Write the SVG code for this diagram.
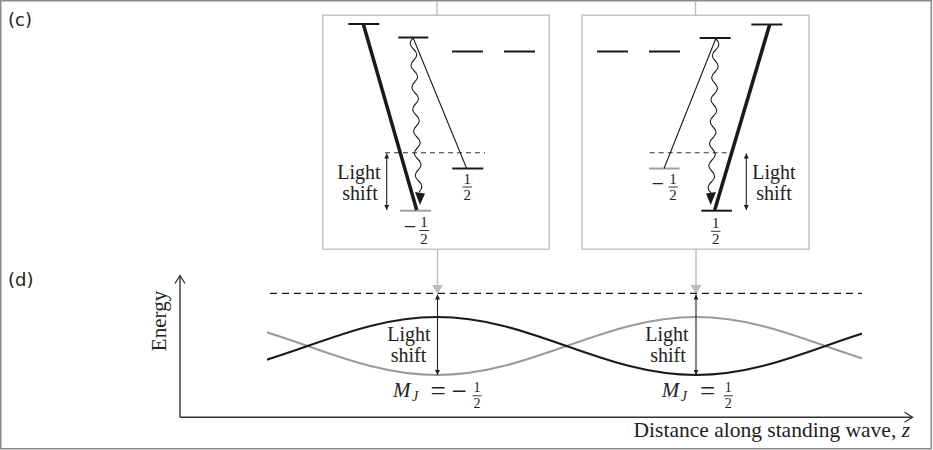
<svg xmlns="http://www.w3.org/2000/svg" width="933" height="450" viewBox="0 0 933 450">
<defs>
<style>
.t{font-family:"Liberation Serif","Times New Roman",serif;fill:#222}
.lab{font-family:"DejaVu Sans",sans-serif;font-size:18px;fill:#222}
.ls{font-size:20px;text-anchor:middle}
.fr{font-size:15px;text-anchor:middle}
.frs{font-size:14px;text-anchor:middle}
.op{text-anchor:middle}
.box{fill:#fff;stroke:#c4c4c4;stroke-width:1.5}
.lev{stroke:#1a1a1a;stroke-width:2}
.levg{stroke:#a0a0a0;stroke-width:2}
.thick{stroke:#1a1a1a;stroke-width:3.5;stroke-linecap:butt}
.thin{stroke:#1a1a1a;stroke-width:1.1}
.wave{fill:none;stroke:#1a1a1a;stroke-width:1.1}
.dash{stroke:#333;stroke-width:1.1;stroke-dasharray:5 4}
.dblarr{stroke:#222;stroke-width:1.1;marker-start:url(#sm);marker-end:url(#sm)}
.bar{stroke:#222;stroke-width:0.9}
.gray{stroke:#bdbdbd;stroke-width:1.4}
.axis{stroke:#333;stroke-width:1.4;fill:none;marker-end:url(#open)}
</style>
<marker id="sm" viewBox="0 0 6 6" markerWidth="6" markerHeight="5" refX="6" refY="3" orient="auto-start-reverse" markerUnits="userSpaceOnUse">
<path d="M0,0 L6,3 L0,6 z" fill="#222"/>
</marker>
<marker id="open" viewBox="0 0 10 12" markerWidth="10" markerHeight="12" refX="9" refY="6" orient="auto" markerUnits="userSpaceOnUse">
<path d="M1,1 L9,6 L1,11" fill="none" stroke="#333" stroke-width="1.3"/>
</marker>
<clipPath id="plotclip"><rect x="267" y="300" width="595" height="100"/></clipPath>
</defs>

<rect x="0.75" y="0.75" width="930.5" height="448" fill="#fff" stroke="#8a8a8a" stroke-width="1.5"/>

<g id="label-c"><text class="lab" x="8" y="26">(c)</text></g>
<g id="label-d"><text class="lab" x="8" y="286">(d)</text></g>

<g id="connectors">
<line class="gray" x1="437" y1="1" x2="437" y2="15"/>
<line class="gray" x1="695.5" y1="1" x2="695.5" y2="15"/>
<line class="gray" x1="437.5" y1="250" x2="437.5" y2="286"/>
<polygon points="432,285 443,285 437.5,294.3" fill="#bdbdbd"/>
<line class="gray" x1="696" y1="250" x2="696" y2="286"/>
<polygon points="690.5,285 701.5,285 696,294.3" fill="#bdbdbd"/>
</g>

<g id="box-left">
<rect class="box" x="322.75" y="15.25" width="226.5" height="234"/>
<line class="lev" x1="348.3" y1="24" x2="379.3" y2="24"/>
<line class="lev" x1="398.3" y1="37.5" x2="428.3" y2="37.5"/>
<line class="lev" x1="452" y1="51.5" x2="483" y2="51.5"/>
<line class="lev" x1="504" y1="51.5" x2="535" y2="51.5"/>
<line class="dash" x1="385" y1="152.7" x2="485" y2="152.7"/>
<line class="lev" x1="452.3" y1="168.5" x2="483.3" y2="168.5"/>
<line class="levg" x1="400" y1="210.7" x2="431" y2="210.7"/>
<line class="thick" x1="363.3" y1="24" x2="416.7" y2="210"/>
<line class="thin" x1="413" y1="37.5" x2="466.7" y2="168.5"/>
<path class="wave" d="M413,38 q-6,5.5 0.43,11 t0.43,11 t0.43,11 t0.43,11 t0.43,11 t0.43,11 t0.43,11 t0.43,11 t0.43,11 t0.43,11 t0.43,11 t0.43,11 t0.43,11 t0.43,11"/>
<polygon points="415,192 425,193.5 420,205" fill="#1a1a1a"/>
<line class="dblarr" x1="386.7" y1="153.5" x2="386.7" y2="210"/>
<text class="t ls" x="359" y="178.5">Light</text>
<text class="t ls" x="360" y="199.5">shift</text>
<text class="t fr" x="467.3" y="184">1</text>
<line class="bar" x1="462.5" y1="187" x2="472" y2="187"/>
<text class="t fr" x="467.3" y="200">2</text>
<text class="t op" font-size="22" x="410" y="234">−</text>
<text class="t fr" x="424" y="227">1</text>
<line class="bar" x1="419.3" y1="230.5" x2="428.8" y2="230.5"/>
<text class="t fr" x="424" y="243.5">2</text>
</g>

<g id="box-right">
<rect class="box" x="582" y="15.25" width="227" height="234"/>
<line class="lev" x1="751.3" y1="24.5" x2="782.3" y2="24.5"/>
<line class="lev" x1="699.7" y1="38" x2="730.7" y2="38"/>
<line class="lev" x1="597" y1="51.5" x2="628" y2="51.5"/>
<line class="lev" x1="649" y1="51.5" x2="680" y2="51.5"/>
<line class="dash" x1="649.7" y1="152.7" x2="731.3" y2="152.7"/>
<line class="levg" x1="649" y1="168.5" x2="679.7" y2="168.5"/>
<line class="lev" x1="701.3" y1="210.7" x2="732" y2="210.7"/>
<line class="thick" x1="769.7" y1="24.5" x2="714.7" y2="210"/>
<line class="thin" x1="716" y1="38" x2="664" y2="168.5"/>
<path class="wave" d="M716,39 q6,5.5 -0.36,11 t-0.36,11 t-0.36,11 t-0.36,11 t-0.36,11 t-0.36,11 t-0.36,11 t-0.36,11 t-0.36,11 t-0.36,11 t-0.36,11 t-0.36,11 t-0.36,11 t-0.36,11"/>
<polygon points="706,193.5 716,192 710.7,205" fill="#1a1a1a"/>
<line class="dblarr" x1="746.3" y1="153.5" x2="746.3" y2="210"/>
<text class="t ls" x="774" y="178.5">Light</text>
<text class="t ls" x="774" y="199.5">shift</text>
<text class="t op" font-size="22" x="657.7" y="191">−</text>
<text class="t fr" x="673" y="184">1</text>
<line class="bar" x1="668.3" y1="187" x2="677.8" y2="187"/>
<text class="t fr" x="673" y="200">2</text>
<text class="t fr" x="715.7" y="228">1</text>
<line class="bar" x1="711" y1="231.3" x2="720.5" y2="231.3"/>
<text class="t fr" x="715.7" y="244">2</text>
</g>

<g id="plot">
<line class="axis" x1="180" y1="417.3" x2="180" y2="275.5"/>
<line class="axis" x1="180" y1="417.3" x2="912.5" y2="417.3"/>
<text class="t" font-size="21" text-anchor="middle" transform="translate(166,321) rotate(-90)">Energy</text>
<text class="t" font-size="21.5" text-anchor="end" x="910" y="437">Distance along standing wave, <tspan font-style="italic">z</tspan></text>
<line x1="270" y1="293.3" x2="862" y2="293.3" stroke="#1a1a1a" stroke-width="1.2" stroke-dasharray="7 5"/>
<g clip-path="url(#plotclip)" fill="none" stroke-width="2">
<path stroke="#9a9a9a" d="M178,317 c46.9,0 87.3,14.14 129.5,29 c42.2,14.86 82.6,29 129.5,29 c46.9,0 87.3,-14.14 129.5,-29 c42.2,-14.86 82.6,-29 129.5,-29 c46.9,0 87.3,14.14 129.5,29 c42.2,14.86 82.6,29 129.5,29"/>
<path stroke="#1a1a1a" d="M178,375 c46.9,0 87.3,-14.14 129.5,-29 c42.2,-14.86 82.6,-29 129.5,-29 c46.9,0 87.3,14.14 129.5,29 c42.2,14.86 82.6,29 129.5,29 c46.9,0 87.3,-14.14 129.5,-29 c42.2,-14.86 82.6,-29 129.5,-29"/>
</g>
<line class="dblarr" x1="437.5" y1="294.5" x2="437.5" y2="375"/>
<line class="dblarr" x1="696" y1="294.5" x2="696" y2="375"/>
<text class="t ls" x="409" y="341">Light</text>
<text class="t ls" x="408.5" y="362">shift</text>
<text class="t ls" x="667" y="341">Light</text>
<text class="t ls" x="668" y="362">shift</text>
<text class="t" font-size="21" font-style="italic" x="393" y="397">M</text>
<text class="t" font-size="14" font-style="italic" x="412" y="401">J</text>
<text class="t op" font-size="27" x="438" y="399.5">=</text>
<text class="t op" font-size="27" x="459" y="399.5">−</text>
<text class="t frs" x="477" y="392">1</text>
<line class="bar" x1="472.5" y1="395.8" x2="481.5" y2="395.8"/>
<text class="t frs" x="477" y="408">2</text>
<text class="t" font-size="21" font-style="italic" x="661.7" y="397">M</text>
<text class="t" font-size="14" font-style="italic" x="680.7" y="401">J</text>
<text class="t op" font-size="27" x="707.5" y="399.5">=</text>
<text class="t frs" x="728.3" y="392">1</text>
<line class="bar" x1="723.8" y1="395.8" x2="732.8" y2="395.8"/>
<text class="t frs" x="728.3" y="408">2</text>
</g>
</svg>
